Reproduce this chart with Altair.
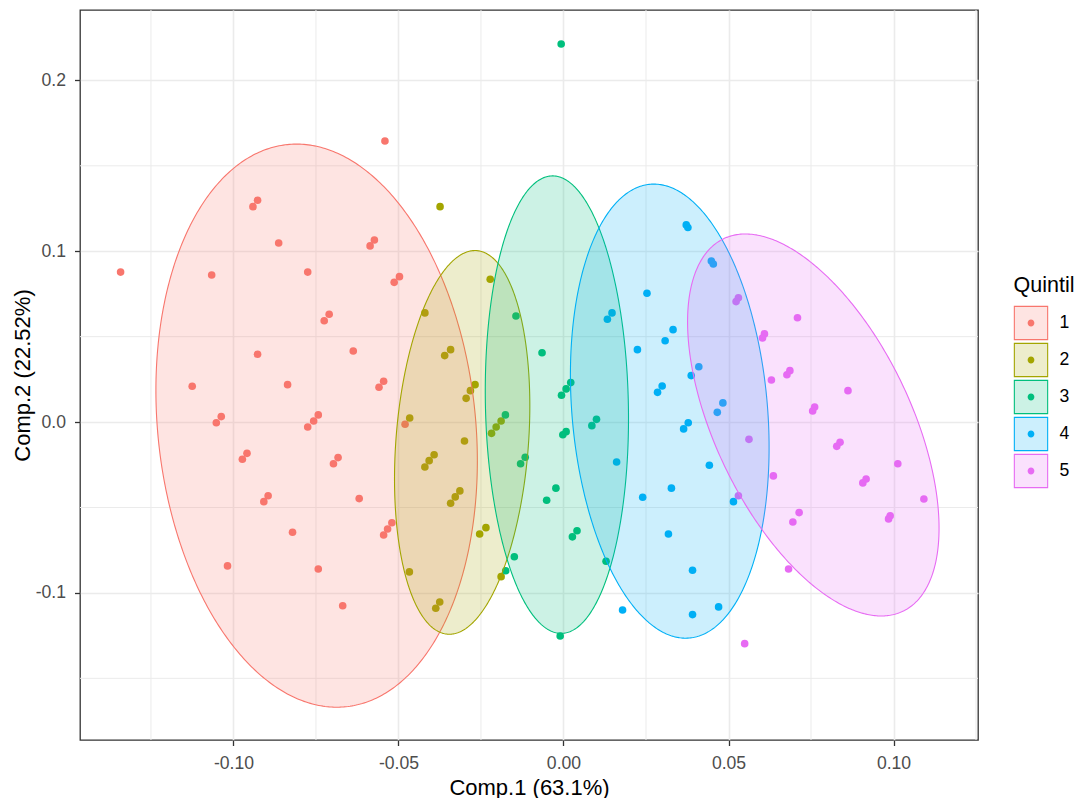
import numpy as np
import pandas as pd
import altair as alt

# ---------------- data ----------------
QUINTIL = ["1", "2", "3", "4", "5"]
COLORS = ["#F8766D", "#A3A500", "#00BF7D", "#00B0F6", "#E76BF3"]
LIGHT = ["#FEE4E2", "#EDEDCC", "#CCF2E5", "#CCEFFD", "#FAE1FD"]  # colours at 20 % on white

X_Q1 = [-0.0541, -0.0927, -0.0941, -0.0863, -0.0573, -0.0586, -0.1342, -0.1066, -0.0775, -0.0497,
        -0.0513, -0.0710, -0.0725, -0.0927, -0.0637, -0.1125, -0.0836, -0.0545, -0.0559, -0.1037,
        -0.1052, -0.0743, -0.0757, -0.0775, -0.0959, -0.0973, -0.0683, -0.0697, -0.0895, -0.0908,
        -0.0619, -0.0480, -0.0821, -0.0520, -0.0533, -0.0545, -0.1018, -0.0743, -0.0669]
Y_Q1 = [0.1645, 0.1298, 0.1261, 0.1048, 0.1066, 0.1031, 0.0878, 0.0861, 0.0878, 0.0851,
        0.0818, 0.0631, 0.0593, 0.0397, 0.0416, 0.0210, 0.0219, 0.0239, 0.0204, 0.0032,
        -0.0004, 0.0042, 0.0006, -0.0029, -0.0183, -0.0218, -0.0208, -0.0244, -0.0431, -0.0466,
        -0.0448, -0.0013, -0.0645, -0.0589, -0.0626, -0.0661, -0.0842, -0.0860, -0.1075]

X_Q2 = [-0.0374, -0.0222, -0.0420, -0.0342, -0.0360, -0.0268, -0.0282, -0.0295, -0.0466, -0.0189,
        -0.0204, -0.0218, -0.0300, -0.0392, -0.0407, -0.0420, -0.0314, -0.0328, -0.0342, -0.0235,
        -0.0254, -0.0467, -0.0189, -0.0375, -0.0387]
Y_Q2 = [0.1261, 0.0836, 0.0639, 0.0424, 0.0389, 0.0219, 0.0184, 0.0139, 0.0024, 0.0006,
        -0.0029, -0.0066, -0.0111, -0.0191, -0.0226, -0.0263, -0.0403, -0.0438, -0.0475, -0.0618,
        -0.0655, -0.0877, -0.0905, -0.1053, -0.1090]

X_Q3 = [-0.0007, -0.0144, -0.0065, 0.0022, 0.0008, -0.0006, -0.0176, 0.0100, 0.0086, 0.0008,
        -0.0002, -0.0116, -0.0130, -0.0023, -0.0051, 0.0041, 0.0027, -0.0149, -0.0175, 0.0129,
        -0.0010]
Y_Q3 = [0.2213, 0.0621, 0.0406, 0.0231, 0.0194, 0.0157, 0.0042, 0.0016, -0.0021, -0.0056,
        -0.0074, -0.0206, -0.0244, -0.0387, -0.0458, -0.0636, -0.0672, -0.0788, -0.0870, -0.0815,
        -0.1252]

X_Q4 = [0.0372, 0.0377, 0.0448, 0.0454, 0.0253, 0.0147, 0.0133, 0.0332, 0.0308, 0.0224,
        0.0299, 0.0285, 0.0410, 0.0387, 0.0483, 0.0466, 0.0378, 0.0364, 0.0161, 0.0442,
        0.0240, 0.0327, 0.0515, 0.0318, 0.0179, 0.0391, 0.0391, 0.0470]
Y_Q4 = [0.1154, 0.1139, 0.0943, 0.0925, 0.0754, 0.0639, 0.0602, 0.0541, 0.0476, 0.0424,
        0.0211, 0.0174, 0.0324, 0.0272, 0.0112, 0.0057, -0.0004, -0.0040, -0.0234, -0.0253,
        -0.0440, -0.0387, -0.0466, -0.0655, -0.1100, -0.0867, -0.1127, -0.1082]

X_Q5 = [0.0530, 0.0523, 0.0709, 0.0609, 0.0603, 0.0686, 0.0677, 0.0630, 0.0862, 0.0761,
        0.0755, 0.0562, 0.0838, 0.0828, 0.1013, 0.0636, 0.0917, 0.0907, 0.0530, 0.1092,
        0.0714, 0.0695, 0.0990, 0.0985, 0.0682, 0.0549]
Y_Q5 = [0.0728, 0.0705, 0.0611, 0.0516, 0.0492, 0.0301, 0.0277, 0.0246, 0.0184, 0.0088,
        0.0065, -0.0101, -0.0118, -0.0142, -0.0244, -0.0315, -0.0333, -0.0356, -0.0431, -0.0450,
        -0.0530, -0.0585, -0.0548, -0.0567, -0.0860, -0.1297]

# confidence ellipses: centre, half x-extent, half y-extent, tilt (cos of phase)
ELL_CX = [-0.0748, -0.0307, -0.0020, 0.0322, 0.0757]
ELL_CY = [-0.0021, -0.0119, 0.0102, 0.0064, -0.0017]
ELL_A = [0.0487, 0.0205, 0.0217, 0.0301, 0.0381]
ELL_B = [0.1648, 0.1123, 0.1339, 0.1329, 0.1118]
ELL_COS = [-0.125, 0.19, -0.06, -0.16, -0.54]

X_TICKS = [-0.10, -0.05, 0.00, 0.05, 0.10]
Y_TICKS = [-0.1, 0.0, 0.1, 0.2]
MINOR_X = [-0.125, -0.075, -0.025, 0.025, 0.075, 0.125]
MINOR_Y = [-0.15, -0.05, 0.05, 0.15]
X_RANGE = [-0.1465, 0.1256]
Y_RANGE = [-0.1861, 0.2412]

# ---------------- tables ----------------
XS = [X_Q1, X_Q2, X_Q3, X_Q4, X_Q5]
YS = [Y_Q1, Y_Q2, Y_Q3, Y_Q4, Y_Q5]
pts = pd.concat([pd.DataFrame({"x": xs, "y": ys, "Quintil": q})
                 for q, xs, ys in zip(QUINTIL, XS, YS)], ignore_index=True)


def ellipse_table(k):
    cx, cy, a, b = ELL_CX[k], ELL_CY[k], ELL_A[k], ELL_B[k]
    phi = np.arccos(ELL_COS[k])
    t = np.linspace(0, np.pi, 241)[::-1]
    return pd.DataFrame({"x": cx + a * np.cos(t),
                         "yhi": cy + b * np.cos(t - phi),
                         "ylo": cy + b * np.cos(t + phi),
                         "Quintil": QUINTIL[k]})


FONT = "Liberation Sans"
xscale = alt.Scale(domain=X_RANGE, nice=False, zero=False)
yscale = alt.Scale(domain=Y_RANGE, nice=False, zero=False)

xaxis = alt.Axis(title="Comp.1 (63.1%)", values=X_TICKS, grid=True, labelFlush=False,
                 labelExpr="replace(format(datum.value, '.2f'), '\u2212', '-')",
                 labelPadding=9.2, titleY=54, titleBaseline="alphabetic")
yaxis = alt.Axis(title="Comp.2 (22.52%)", values=Y_TICKS, grid=True, labelFlush=False,
                 labelExpr="replace(format(datum.value, '.1f'), '\u2212', '-')",
                 labelPadding=9, titleX=-51, titleY=365, titleAngle=270,
                 titleBaseline="alphabetic")


def X(f):
    return alt.X(f, type="quantitative", scale=xscale, axis=xaxis)


def Y(f):
    return alt.Y(f, type="quantitative", scale=yscale, axis=yaxis)


# legend key: square with light fill, coloured border and a dot (rings) in the middle
def ring(r, n=16):
    ang = np.linspace(0, 2 * np.pi, n, endpoint=False)
    pts_ = [f"{r * np.cos(a):.4f},{r * np.sin(a):.4f}" for a in ang]
    return "M" + "L".join(pts_) + "Z"


KEY_PATH = "M-1,-1L1,-1L1,1L-1,1Z" + "".join(ring(r) for r in (0.033, 0.087, 0.138, 0.17))
leg = alt.Legend(title="Quintil", orient="none", legendX=933.5, legendY=265,
                 direction="vertical", symbolType=KEY_PATH, symbolSize=1110,
                 symbolStrokeWidth=1.1, rowPadding=-6, titlePadding=9,
                 labelOffset=11, labelFontSize=17.6, labelColor="black", labelFont=FONT,
                 titleFontSize=21.5, titleColor="black", titleFont=FONT,
                 titleFontWeight="normal", titleLimit=300)

col_scale = alt.Scale(range=COLORS)                       # data-driven domain, no legend
stroke_scale = alt.Scale(domain=QUINTIL, range=COLORS)
GRID = "#EBEBEB"

layers = [
    # legend carrier (draws no mark): light fill + coloured stroke
    alt.Chart(pd.DataFrame({"Quintil": QUINTIL})).mark_square(opacity=1, strokeWidth=1.1).encode(
        fill=alt.Fill("Quintil:N", scale=alt.Scale(domain=QUINTIL, range=LIGHT), legend=leg),
        stroke=alt.Stroke("Quintil:N", scale=stroke_scale, legend=leg),
    ).transform_filter("false"),
    alt.Chart(pd.DataFrame({"v": MINOR_X})).mark_rule(color=GRID, strokeWidth=1.0).encode(x=X("v")),
    alt.Chart(pd.DataFrame({"v": MINOR_Y})).mark_rule(color=GRID, strokeWidth=1.0).encode(y=Y("v")),
    alt.Chart(pts).mark_circle(size=58, opacity=1).encode(
        x=X("x"), y=Y("y"), color=alt.Color("Quintil:N", scale=col_scale, legend=None)),
]
for k in range(5):
    layers.append(alt.Chart(ellipse_table(k)).mark_area(
        fillOpacity=0.2, strokeWidth=1.1, strokeOpacity=1).encode(
        x=X("x"), y=Y("ylo"), y2=alt.Y2("yhi"),
        color=alt.Color("Quintil:N", scale=col_scale, legend=None),
        stroke=alt.Stroke("Quintil:N", scale=stroke_scale, legend=None)))

chart = alt.layer(*layers).properties(
    width=898, height=730,
    padding={"left": 72, "top": 2, "right": 96, "bottom": 58},
    autosize=alt.AutoSizeParams(type="none"),
    background="white",
).configure_view(stroke="#333333", strokeWidth=1.3).configure_axis(
    labelFont=FONT, titleFont=FONT, labelFontSize=17.6, labelColor="#4D4D4D",
    titleFontSize=22, titleColor="black", titleFontWeight="normal",
    tickColor="#333333", tickSize=5.5, tickWidth=1.3, domain=False,
    gridColor=GRID, gridWidth=1.6, labelOverlap=False,
)

chart.save("out.html", embed_options={"renderer": "svg", "actions": False})
